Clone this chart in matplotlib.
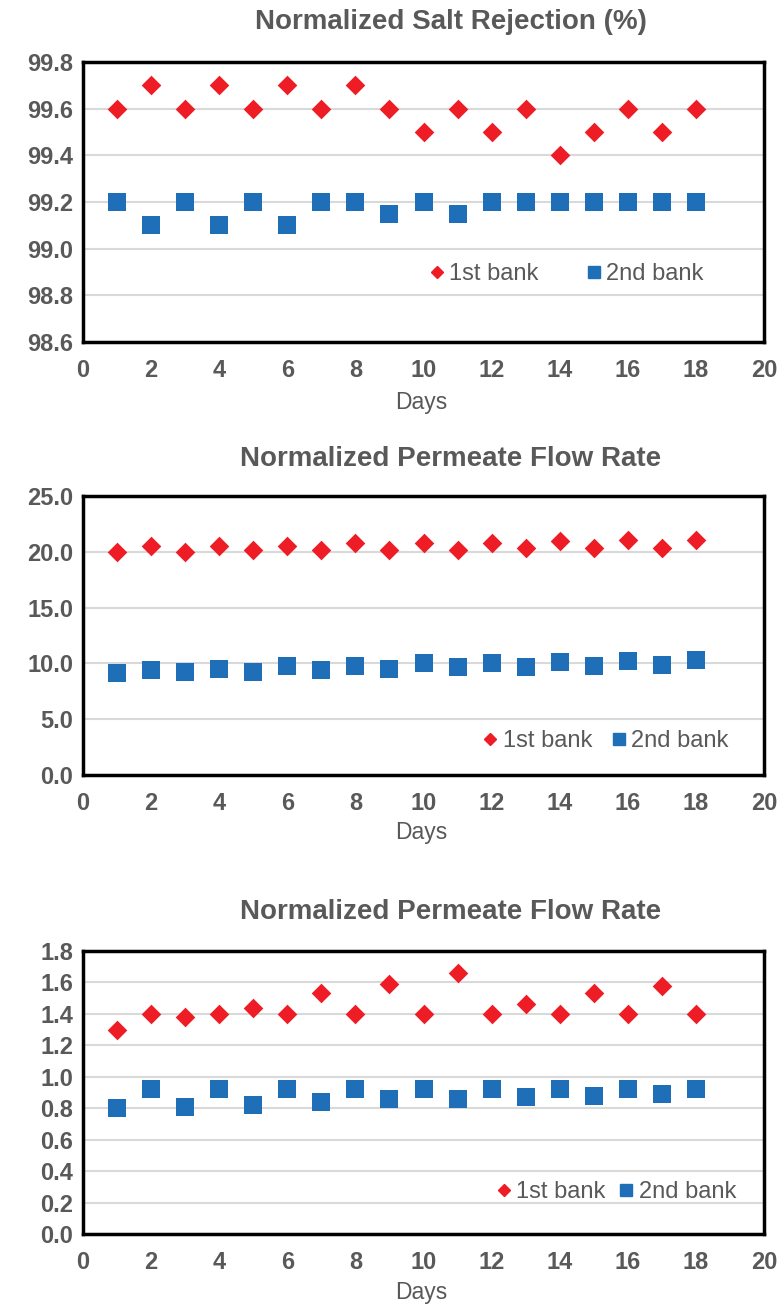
import matplotlib
matplotlib.use("Agg")
import matplotlib.pyplot as plt
from matplotlib.lines import Line2D

days = list(range(1, 19))

salt_1st = [99.6, 99.7, 99.6, 99.7, 99.6, 99.7, 99.6, 99.7, 99.6, 99.5, 99.6, 99.5, 99.6, 99.4, 99.5, 99.6, 99.5, 99.6]
salt_2nd = [99.2, 99.1, 99.2, 99.1, 99.2, 99.1, 99.2, 99.2, 99.15, 99.2, 99.15, 99.2, 99.2, 99.2, 99.2, 99.2, 99.2, 99.2]

flow_1st = [20.0, 20.5, 20.0, 20.5, 20.2, 20.5, 20.2, 20.8, 20.2, 20.8, 20.2, 20.8, 20.3, 21.0, 20.3, 21.05, 20.3, 21.05]
flow_2nd = [9.1, 9.4, 9.2, 9.5, 9.25, 9.75, 9.4, 9.75, 9.5, 10.0, 9.7, 10.0, 9.7, 10.1, 9.75, 10.25, 9.9, 10.3]

flow2_1st = [1.30, 1.40, 1.38, 1.40, 1.44, 1.40, 1.53, 1.40, 1.59, 1.40, 1.66, 1.40, 1.46, 1.40, 1.53, 1.40, 1.58, 1.40]
flow2_2nd = [0.80, 0.92, 0.81, 0.92, 0.82, 0.92, 0.84, 0.92, 0.86, 0.92, 0.86, 0.92, 0.87, 0.92, 0.88, 0.92, 0.89, 0.92]

titles = ["Normalized Salt Rejection (%)", "Normalized Permeate Flow Rate", "Normalized Permeate Flow Rate"]
xticks = [0, 2, 4, 6, 8, 10, 12, 14, 16, 18, 20]
yticks1 = [98.6, 98.8, 99.0, 99.2, 99.4, 99.6, 99.8]
yticks2 = [0.0, 5.0, 10.0, 15.0, 20.0, 25.0]
yticks3 = [0.0, 0.2, 0.4, 0.6, 0.8, 1.0, 1.2, 1.4, 1.6, 1.8]
series_labels = ["1st bank", "2nd bank"]

RED = "#ee1c25"
BLUE = "#1f6fb8"
GRAY = "#595959"
plt.rcParams["font.family"] = ["Liberation Sans", "DejaVu Sans"]

W, H = 777, 1308
fig = plt.figure(figsize=(W / 100, H / 100), dpi=100)

# (top px, bottom px) of each axes
boxes = [(62, 342), (496, 775), (951, 1234)]
left_px, right_px = 83, 764
title_y = [22, 459, 912]
days_y = [403, 833, 1293]
legend_cfg = [
    dict(anchor=(0.911, 0.243), colsp=2.05),
    dict(anchor=(0.948, 0.122), colsp=0.85),
    dict(anchor=(0.959, 0.148), colsp=0.6),
]
data = [(salt_1st, salt_2nd, yticks1), (flow_1st, flow_2nd, yticks2), (flow2_1st, flow2_2nd, yticks3)]

for i, ((top, bot), (d1, d2, yt)) in enumerate(zip(boxes, data)):
    ax = fig.add_axes([left_px / W, 1 - bot / H, (right_px - left_px) / W, (bot - top) / H])
    ax.scatter(days, d1, marker="D", s=100, color=RED, linewidths=0, zorder=3)
    ax.scatter(days, d2, marker="s", s=150, color=BLUE, linewidths=0, zorder=3)
    ax.set_xlim(0, 20)
    ax.set_ylim(yt[0], yt[-1])
    ax.set_xticks(xticks)
    ax.set_yticks(yt)
    ax.set_yticklabels([f"{v:.1f}" for v in yt])
    ax.tick_params(length=0, labelsize=17, labelcolor=GRAY)
    ax.tick_params(axis="y", pad=7)
    ax.tick_params(axis="x", pad=12)
    for lab in ax.get_xticklabels() + ax.get_yticklabels():
        lab.set_fontweight("bold")
    ax.grid(axis="y", color="#d9d9d9", linewidth=1.5, zorder=0)
    ax.set_axisbelow(True)
    for sp in ax.spines.values():
        sp.set_linewidth(2.5)
        sp.set_color("black")
    fig.text(451 / W, 1 - title_y[i] / H, titles[i], ha="center", va="center",
             fontsize=20, fontweight="bold", color=GRAY)
    fig.text(421 / W, 1 - days_y[i] / H, "Days", ha="center", va="center",
             fontsize=16.5, color=GRAY)
    handles = [Line2D([], [], linestyle="none", marker="D", markersize=6.6, color=RED),
               Line2D([], [], linestyle="none", marker="s", markersize=8.6, color=BLUE)]
    cfg = legend_cfg[i]
    leg = ax.legend(handles, series_labels, ncol=2, loc="center right",
                    bbox_to_anchor=cfg["anchor"], frameon=False, fontsize=17,
                    handlelength=0.55, handletextpad=0.25, columnspacing=cfg["colsp"],
                    borderpad=0, borderaxespad=0)
    for t in leg.get_texts():
        t.set_color(GRAY)

fig.savefig("out.png", dpi=100)
